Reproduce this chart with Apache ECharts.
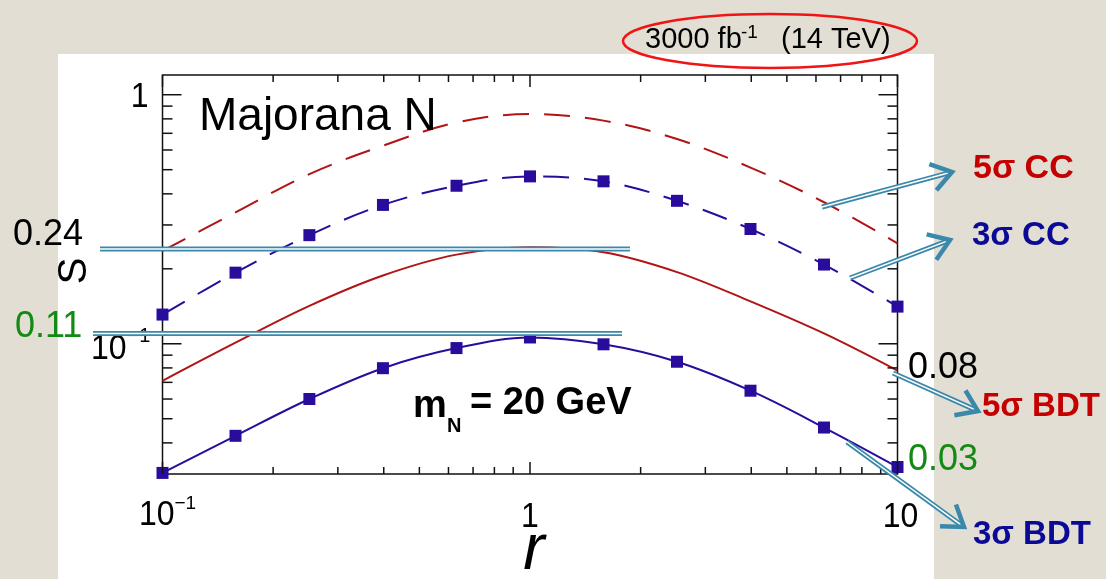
<!DOCTYPE html>
<html>
<head>
<meta charset="utf-8">
<script src="https://cdn.jsdelivr.net/npm/echarts@6/dist/echarts.min.js"></script>
<style>
  html, body { margin: 0; padding: 0; background: #e3ded3; overflow: hidden; }
  #panel { position: absolute; left: 58px; top: 54px; width: 876px; height: 525px; background: #ffffff; }
  #chart { position: absolute; left: 0; top: 0; width: 1106px; height: 579px; }
</style>
</head>
<body>
<div id="panel"></div>
<div id="chart"></div>
<script>
// Sensitivity S versus r for a 20 GeV Majorana N
const rValues = [0.1, 0.158, 0.251, 0.398, 0.631, 1, 1.585, 2.512, 3.981, 6.31, 10];
const cc5  = [0.236, 0.337, 0.48, 0.624, 0.774, 0.836, 0.787, 0.664, 0.51, 0.37, 0.253];
const cc3  = [0.131, 0.193, 0.273, 0.361, 0.431, 0.470, 0.449, 0.375, 0.289, 0.208, 0.141];
const bdt5 = [0.071, 0.101, 0.142, 0.188, 0.228, 0.244, 0.233, 0.194, 0.148, 0.110, 0.078];
const bdt3 = [0.0303, 0.0427, 0.060, 0.0798, 0.0961, 0.106, 0.0995, 0.0847, 0.0648, 0.0461, 0.032];

// Quoted levels
const peakLevels = [0.24, 0.11];
const endLevels = ['0.08', '0.03'];

// Axis ranges and ticks
const xRange = [0.1, 10];
const yRange = [0.03, 1.2];
const xMajor = [0.1, 1, 10];
const xMinor = [0.2, 0.3, 0.4, 0.5, 0.6, 0.7, 0.8, 0.9, 2, 3, 4, 5, 6, 7, 8, 9];
const yMajor = [0.1, 1];
const yMinor = [0.04, 0.05, 0.06, 0.07, 0.08, 0.09, 0.2, 0.3, 0.4, 0.5, 0.6, 0.7, 0.8, 0.9];

const RED = '#b01414';
const NAVY = '#2a0c9c';
const LBL_RED = '#c40000';
const LBL_NAVY = '#0a0a96';
const GREEN = '#138a13';
const TEAL = '#3a88aa';
const FONT = '"Liberation Sans", Arial, sans-serif';

const pairs = vals => rValues.map((r, i) => [r, vals[i]]);

const chart = echarts.init(document.getElementById('chart'), null, { renderer: 'canvas' });

const hiddenAxis = {
  axisLine: { show: false }, axisTick: { show: false },
  axisLabel: { show: false }, splitLine: { show: false }
};

chart.setOption({
  animation: false,
  backgroundColor: 'transparent',
  grid: { left: 162.5, top: 75, width: 735, height: 399, show: true,
          borderColor: '#111', borderWidth: 1.5, backgroundColor: 'transparent' },
  xAxis: Object.assign({ type: 'log', logBase: 10, min: xRange[0], max: xRange[1] }, hiddenAxis),
  yAxis: Object.assign({ type: 'log', logBase: 10, min: yRange[0], max: yRange[1] }, hiddenAxis),
  series: [
    { name: '5σ CC', type: 'line', data: pairs(cc5), smooth: 0.35, showSymbol: false, clip: false,
      lineStyle: { color: RED, width: 2, type: [26, 15] } },
    { name: '3σ CC', type: 'line', data: pairs(cc3), smooth: 0.35, clip: false,
      symbol: 'rect', symbolSize: 12, itemStyle: { color: NAVY },
      lineStyle: { color: NAVY, width: 2, type: [26, 15] } },
    { name: '5σ BDT', type: 'line', data: pairs(bdt5), smooth: 0.35, showSymbol: false, clip: false,
      lineStyle: { color: RED, width: 2 } },
    { name: '3σ BDT', type: 'line', data: pairs(bdt3), smooth: 0.35, clip: false,
      symbol: 'rect', symbolSize: 12, itemStyle: { color: NAVY },
      lineStyle: { color: NAVY, width: 2 } }
  ]
});

const px = v => chart.convertToPixel({ xAxisIndex: 0 }, v);
const py = v => chart.convertToPixel({ yAxisIndex: 0 }, v);
const L = px(xRange[0]), R = px(xRange[1]), T = py(yRange[1]), B = py(yRange[0]);

const g = [];
const line = (x1, y1, x2, y2, stroke, w, z) => g.push({
  type: 'line', silent: true, z: z || 10,
  shape: { x1, y1, x2, y2 }, style: { stroke, lineWidth: w, lineCap: 'butt' }
});
const text = (str, x, y, opt) => {
  opt = opt || {};
  g.push({
    type: 'text', silent: true, z: opt.z || 20, x, y, rotation: opt.rotation || 0,
    scaleY: opt.scaleY || 1,
    style: {
      text: str, x: 0, y: 0,
      fontSize: opt.size || 32, fontWeight: opt.weight || 'normal',
      fontStyle: opt.style || 'normal', fontFamily: FONT,
      fill: opt.color || '#000',
      align: opt.align || 'left', textAlign: opt.align || 'left',
      verticalAlign: 'middle', textVerticalAlign: 'middle'
    }
  });
};

// Inward ticks on all four sides of the frame
xMajor.forEach(v => { const x = px(v); line(x, B, x, B - 12, '#111', 1.5); line(x, T, x, T + 12, '#111', 1.5); });
xMinor.forEach(v => { const x = px(v); line(x, B, x, B - 7, '#111', 1.5); line(x, T, x, T + 7, '#111', 1.5); });
yMajor.forEach(v => { const y = py(v); line(L, y, L + 19, y, '#111', 1.5); line(R, y, R - 19, y, '#111', 1.5); });
yMinor.forEach(v => { const y = py(v); line(L, y, L + 10, y, '#111', 1.5); line(R, y, R - 10, y, '#111', 1.5); });

// Tick labels
const tk = { scaleY: 1.08 };
text('10', px(0.1) + 12, B + 41, Object.assign({ align: 'right' }, tk));
text('\u22121', px(0.1) + 12, B + 30, { size: 19 });
text('1', px(1), B + 43, Object.assign({ align: 'center' }, tk));
text('10', px(10) + 3, B + 43, Object.assign({ align: 'center' }, tk));
text('1', L - 14, py(1) + 3, Object.assign({ align: 'right' }, tk));
text('10', L - 36, py(0.1) + 6, Object.assign({ align: 'right' }, tk));
text('\u22121', L - 35, py(0.1) - 7, { size: 20 });

// Axis titles
text('r', px(1) + 4, 551, { size: 64, style: 'italic', align: 'center' });
text('S', 75, 271, { size: 40, align: 'center', rotation: Math.PI / 2 });

// In-frame labels
text('Majorana N', 199, 117, { size: 46 });
text('m', 413, 407, { size: 38, weight: 'bold' });
text('N', 447, 426, { size: 20, weight: 'bold' });
text('= 20 GeV', 470, 404, { size: 38, weight: 'bold' });

// Luminosity label with its ellipse
text('3000 fb', 645, 40, { size: 29 });
text('-1', 741, 33, { size: 19 });
text('(14 TeV)', 781, 40, { size: 29 });
g.push({ type: 'ellipse', silent: true, z: 30, shape: { cx: 770, cy: 41, rx: 147, ry: 27 },
         style: { fill: 'none', stroke: '#f01414', lineWidth: 2.5 } });

// Double-line callouts
const doubleLine = (x1, y1, x2, y2) => {
  line(x1, y1, x2, y2, TEAL, 5, 40);
  line(x1, y1, x2, y2, '#ffffff', 1.5, 41);
};
const arrow = (x1, y1, x2, y2) => {
  const a = Math.atan2(y2 - y1, x2 - x1), len = 24, spread = 0.6;
  const sx = x2 - 4 * Math.cos(a), sy = y2 - 4 * Math.sin(a);
  doubleLine(x1, y1, sx, sy);
  g.push({ type: 'polyline', silent: true, z: 42,
    shape: { points: [
      [x2 - len * Math.cos(a - spread), y2 - len * Math.sin(a - spread)],
      [x2, y2],
      [x2 - len * Math.cos(a + spread), y2 - len * Math.sin(a + spread)]
    ] },
    style: { stroke: TEAL, lineWidth: 4.5, fill: 'none', lineJoin: 'miter' } });
};

doubleLine(100, py(peakLevels[0]), 630, py(peakLevels[0]));
doubleLine(93, py(peakLevels[1]), 622, py(peakLevels[1]));
text(String(peakLevels[0]), 13, 235, { size: 36 });
text(String(peakLevels[1]), 15, 327, { size: 36, color: GREEN });

arrow(822, 207, 952, 172);
arrow(850, 278, 950, 240);
arrow(893, 373, 978, 411);
arrow(847, 442, 964, 527);

text(endLevels[0], 908, 368, { size: 36 });
text(endLevels[1], 908, 460, { size: 36, color: GREEN });

text('5σ CC', 973, 169, { size: 34, weight: 'bold', color: LBL_RED });
text('3σ CC', 972, 236, { size: 33, weight: 'bold', color: LBL_NAVY });
text('5σ BDT', 982, 407, { size: 33, weight: 'bold', color: LBL_RED });
text('3σ BDT', 973, 535, { size: 33, weight: 'bold', color: LBL_NAVY });

chart.setOption({ graphic: { elements: g } });
</script>
</body>
</html>
